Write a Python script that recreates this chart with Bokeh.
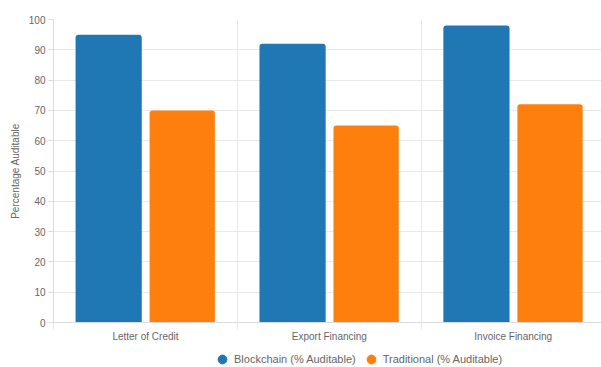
from bokeh.plotting import figure
from bokeh.layouts import column
from bokeh.models import ColumnDataSource, Range1d, FixedTicker, Legend, LegendItem
from bokeh.transform import dodge
from bokeh.embed import file_html
from bokeh.resources import INLINE

categories = ["Letter of Credit", "Export Financing", "Invoice Financing"]
series_names = ["Blockchain (% Auditable)", "Traditional (% Auditable)"]
blockchain = [95, 92, 98]
traditional = [70, 65, 72]
y_ticks = [0, 10, 20, 30, 40, 50, 60, 70, 80, 90, 100]

BLUE = "#1f77b4"
ORANGE = "#ff7f0e"
TXT = "#666666"
GRID = "#e8e8e8"
AXIS = "#dcdcdc"
FONT = "Liberation Sans"

pos = [i + 0.5 for i in range(len(categories))]
bounds = [float(i) for i in range(len(categories) + 1)]
base = [0] * len(categories)
source = ColumnDataSource(dict(x=pos, cat=categories, blockchain=blockchain,
                               traditional=traditional, base=base))

# ---------------- main chart ----------------
p = figure(width=601, height=344, output_backend="svg", toolbar_location=None,
           x_range=Range1d(0, 2.98), y_range=Range1d(0, 100),
           min_border_left=53, min_border_right=0, min_border_top=19, min_border_bottom=22)
p.outline_line_color = None
p.background_fill_color = "white"

p.vbar(x=dodge("x", -0.2), top="blockchain", width=0.36, source=source,
       fill_color=BLUE, line_color=None, border_radius=(3, 3, 0, 0))
p.vbar(x=dodge("x", 0.2), top="traditional", width=0.355, source=source,
       fill_color=ORANGE, line_color=None, border_radius=(3, 3, 0, 0))

# y axis
p.yaxis.ticker = FixedTicker(ticks=y_ticks)
p.yaxis.axis_label = "Percentage Auditable"
p.yaxis.axis_label_text_font = FONT
p.yaxis.axis_label_text_font_size = "10px"
p.yaxis.axis_label_text_font_style = "normal"
p.yaxis.axis_label_text_color = TXT
p.yaxis.axis_label_standoff = 5
p.yaxis.major_label_text_font = FONT
p.yaxis.major_label_text_font_size = "10px"
p.yaxis.major_label_text_color = TXT
p.yaxis.major_label_standoff = 3
p.yaxis.major_tick_out = 5
p.yaxis.major_tick_in = 0
p.yaxis.minor_tick_line_color = None
p.yaxis.major_tick_line_color = AXIS
p.yaxis.axis_line_color = AXIS

# x axis: labels at category centres, tick marks at category boundaries
p.xaxis.ticker = FixedTicker(ticks=pos, minor_ticks=bounds)
p.xaxis.major_label_overrides = {x: c for x, c in zip(pos, categories)}
p.xaxis.major_label_text_font = FONT
p.xaxis.major_label_text_font_size = "10px"
p.xaxis.major_label_text_color = TXT
p.xaxis.major_label_standoff = 1
p.xaxis.major_tick_line_color = None
p.xaxis.major_tick_out = 0
p.xaxis.major_tick_in = 0
p.xaxis.minor_tick_out = 7
p.xaxis.minor_tick_in = 0
p.xaxis.minor_tick_line_color = GRID
p.xaxis.axis_line_color = AXIS

p.xgrid.ticker = FixedTicker(ticks=bounds)
p.xgrid.grid_line_color = GRID
p.ygrid.ticker = FixedTicker(ticks=y_ticks)
p.ygrid.grid_line_color = GRID

# ---------------- legend strip ----------------
lf = figure(width=601, height=23, output_backend="svg", toolbar_location=None,
            x_range=Range1d(0, 1), y_range=Range1d(1, 2),
            x_axis_location=None, y_axis_location=None,
            min_border_left=0, min_border_right=0, min_border_top=0, min_border_bottom=0)
lf.outline_line_color = None
lf.xgrid.visible = False
lf.ygrid.visible = False

# marker renderers for the legend (their points fall outside this strip's range)
r1 = lf.scatter(x="x", y="base", source=source, marker="circle", size=9,
                fill_color=BLUE, line_color=BLUE)
r2 = lf.scatter(x="x", y="base", source=source, marker="circle", size=9,
                fill_color=ORANGE, line_color=ORANGE)

legend = Legend(items=[LegendItem(label=series_names[0], renderers=[r1], index=0),
                       LegendItem(label=series_names[1], renderers=[r2], index=0)],
                orientation="horizontal", location=(158, -3),
                glyph_width=22, glyph_height=22, label_height=13, label_standoff=1,
                spacing=4, padding=0, margin=0, border_line_color=None,
                background_fill_alpha=0,
                label_text_font=FONT, label_text_font_size="11px", label_text_color=TXT)
lf.add_layout(legend, "center")

layout = column(p, lf, spacing=0)
open("out.html", "w").write(file_html(layout, INLINE))
